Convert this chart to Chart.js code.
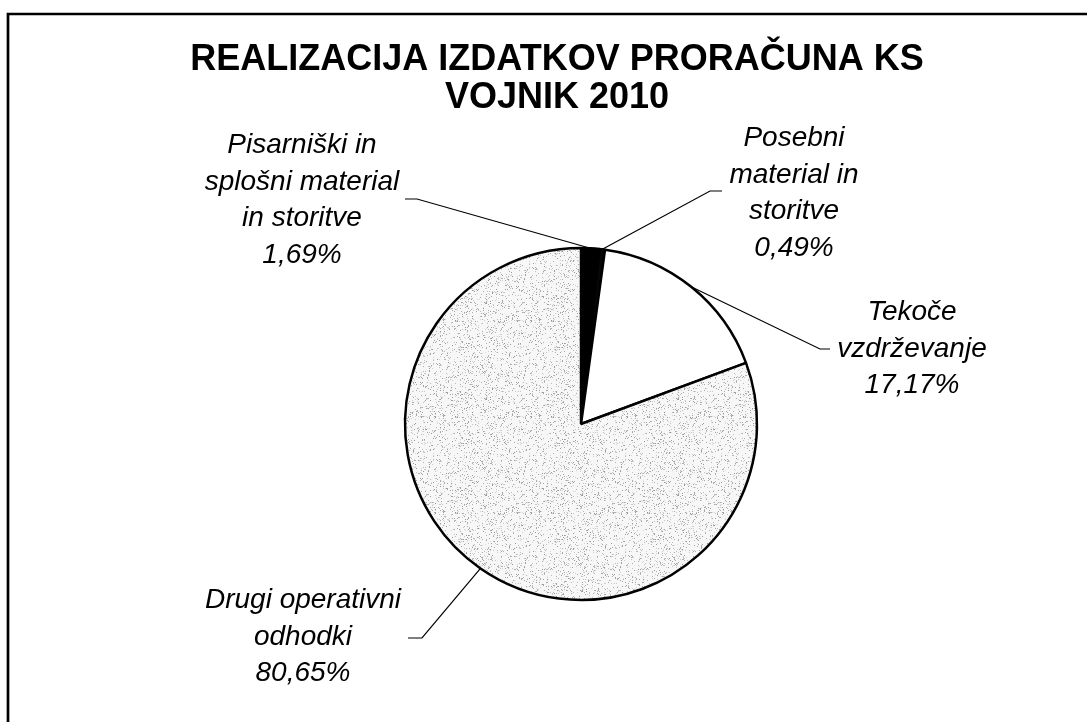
<!DOCTYPE html>
<html><head><meta charset="utf-8">
<script src="https://cdn.jsdelivr.net/npm/chart.js@4/dist/chart.umd.min.js"></script>
<style>html,body{margin:0;padding:0;background:#fff;overflow:hidden;}</style>
</head><body>
<canvas id="c" width="1087" height="722"></canvas>
<script>
// ---- data ----
const titleLines = ['REALIZACIJA IZDATKOV PRORAČUNA KS', 'VOJNIK 2010'];
const categories = [
  ['Pisarniški in', 'splošni material', 'in storitve'],
  ['Posebni', 'material in', 'storitve'],
  ['Tekoče', 'vzdrževanje'],
  ['Drugi operativni', 'odhodki']
];
const values = [1.69, 0.49, 17.17, 80.65];

// ---- layout / style (relative to the pie centre) ----
const labelLayout = [
  {dx: -279, dy: -224, elbow: [-164, -225], end: [-176, -225]},
  {dx: 213,  dy: -231, elbow: [129, -233],  end: [141, -233]},
  {dx: 331,  dy: -75,  elbow: [239, -75],   end: [249, -75]},
  {dx: -278, dy: 213,  elbow: [-159, 214],  end: [-173, 214]}
];
const FONT = '"Liberation Sans", Arial, Helvetica, sans-serif';

function makeSpeckle() {
  const c = document.createElement('canvas');
  c.width = c.height = 96;
  const g = c.getContext('2d');
  g.fillStyle = '#f7f7f7';
  g.fillRect(0, 0, 96, 96);
  let s = 20240607;
  const rnd = () => { s = (Math.imul(s, 1103515245) + 12345) >>> 0; return (s >>> 8) / 16777216; };
  for (let i = 0; i < 1300; i++) {
    const x = Math.floor(rnd() * 96), y = Math.floor(rnd() * 96);
    const v = 150 + Math.floor(rnd() * 70);
    g.fillStyle = `rgb(${v},${v},${v})`;
    g.fillRect(x, y, 1, 1);
  }
  return g.createPattern(c, 'repeat');
}

const spacerPlugin = {
  id: 'spacer',
  beforeInit(chart) {
    const box = {
      position: 'left', weight: -10, fullSize: false, options: {},
      left: 0, top: 0, right: 0, bottom: 0, width: 0, height: 0,
      isHorizontal() { return false; },
      update(maxW, maxH) { this.width = 48; this.height = maxH; },
      draw() {}
    };
    if (Chart.layouts) Chart.layouts.addBox(chart, box);
  }
};

const framePlugin = {
  id: 'frame',
  beforeDraw(chart) {
    const ctx = chart.ctx;
    ctx.save();
    ctx.strokeStyle = '#000';
    ctx.lineWidth = 2.7;
    ctx.beginPath();
    ctx.moveTo(8, chart.height + 5);
    ctx.lineTo(8, 14);
    ctx.lineTo(chart.width + 5, 14);
    ctx.stroke();
    ctx.restore();
  }
};

const labelPlugin = {
  id: 'leaderLabels',
  afterDatasetsDraw(chart) {
    const ctx = chart.ctx;
    const meta = chart.getDatasetMeta(0);
    ctx.save();
    meta.data.forEach((arc, i) => {
      const p = arc.getProps(['x', 'y', 'startAngle', 'endAngle', 'outerRadius'], true);
      const mid = (p.startAngle + p.endAngle) / 2;
      const ax = p.x + Math.cos(mid) * p.outerRadius;
      const ay = p.y + Math.sin(mid) * p.outerRadius;
      const L = labelLayout[i];
      ctx.strokeStyle = '#000';
      ctx.lineWidth = 1.2;
      ctx.beginPath();
      ctx.moveTo(ax, ay);
      ctx.lineTo(p.x + L.elbow[0], p.y + L.elbow[1]);
      ctx.lineTo(p.x + L.end[0], p.y + L.end[1]);
      ctx.stroke();
      const lines = categories[i].concat([values[i].toFixed(2).replace('.', ',') + '%']);
      ctx.fillStyle = '#000';
      ctx.font = 'italic 28px ' + FONT;
      ctx.textAlign = 'center';
      ctx.textBaseline = 'middle';
      const lh = 36.5;
      const cx = p.x + L.dx, cy = p.y + L.dy;
      lines.forEach((t, k) => {
        ctx.fillText(t, cx, cy + (k - (lines.length - 1) / 2) * lh);
      });
    });
    ctx.restore();
  }
};

new Chart(document.getElementById('c'), {
  type: 'pie',
  data: {
    labels: categories,
    datasets: [{
      data: values,
      backgroundColor: ['#000000', '#080808', '#ffffff', makeSpeckle()],
      borderColor: '#000',
      borderWidth: 2.5,
      radius: 176
    }]
  },
  options: {
    responsive: false,
    animation: false,
    events: [],
    radius: 176,
    layout: {padding: {left: 27, top: 0, right: 0, bottom: 0}},
    plugins: {
      legend: {display: false},
      tooltip: {enabled: false},
      title: {
        display: true,
        text: titleLines,
        color: '#000',
        font: {family: FONT, size: 36, weight: 'bold', lineHeight: 38 / 36},
        padding: {top: 41, bottom: 9}
      }
    }
  },
  plugins: [spacerPlugin, framePlugin, labelPlugin]
});
</script>
</body></html>
